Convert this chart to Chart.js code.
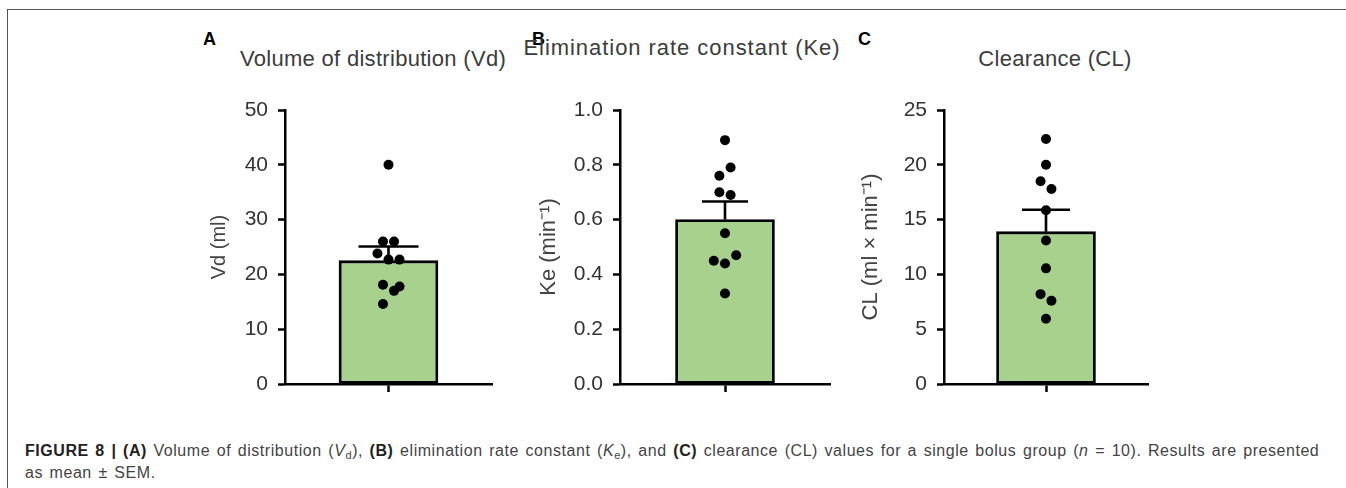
<!DOCTYPE html>
<html>
<head>
<meta charset="utf-8">
<script src="https://cdn.jsdelivr.net/npm/chart.js@4.4.1/dist/chart.umd.min.js"></script>
<style>
  html, body { margin: 0; padding: 0; background: #fff; }
  body { width: 1346px; height: 488px; position: relative; overflow: hidden; font-family: "Liberation Sans", Arial, sans-serif; }
  .frame { position: absolute; left: 7px; top: 9px; right: -2px; bottom: -2px; border-top: 1.5px solid #555; border-left: 1.5px solid #555; }
  .panel { position: absolute; top: 20px; height: 390px; }
  .tag { position: absolute; top: 30px; font-size: 18px; line-height: 18px; font-weight: bold; color: #000; }
  .ptitle { position: absolute; font-size: 22px; line-height: 22px; color: #3c3c3c; white-space: nowrap; transform: translate(-50%, -50%); }
  .caption { position: absolute; left: 25px; top: 440px; font-size: 16px; line-height: 22px; letter-spacing: 0.55px; word-spacing: 1.6px; color: #444; white-space: nowrap; }
  .caption b { color: #222; }
  .caption sub { font-size: 11px; line-height: 0; vertical-align: -3px; }
</style>
</head>
<body>
<div class="frame"></div>

<div class="tag" style="left:203px">A</div>
<div class="tag" style="left:532px">B</div>
<div class="tag" style="left:858px">C</div>

<div class="ptitle" id="titleVd" style="left:373px;top:59px;letter-spacing:0.3px"></div>
<div class="ptitle" id="titleKe" style="left:682px;top:48px;letter-spacing:0.95px"></div>
<div class="ptitle" id="titleCL" style="left:1055px;top:59px;letter-spacing:0.3px"></div>

<div class="panel" style="left:203px;width:340px"><canvas id="chartVd"></canvas></div>
<div class="panel" style="left:500px;width:365px"><canvas id="chartKe"></canvas></div>
<div class="panel" style="left:840px;width:430px"><canvas id="chartCL"></canvas></div>

<div class="caption">
  <b>FIGURE 8 | (A)</b> Volume of distribution (<i>V</i><sub>d</sub>), <b>(B)</b> elimination rate constant (<i>K</i><sub>e</sub>), and <b>(C)</b> clearance (CL) values for a single bolus group (<i>n</i> = 10). Results are presented<br>
  as mean ± SEM.
</div>

<script>
// ค่าเฉลี่ย ± SEM ของแต่ละแผง (อ่านจากรูป)
const vdMean = 22.5, vdSem = 2.6;
const keMean = 0.60, keSem = 0.066;
const clMean = 13.9, clSem = 2.0;

// จุดข้อมูลรายตัว (n = 10) และตำแหน่งกระจายแนวนอน (หน่วย = ความกว้างจุด)
const vdValues = [40.0, 26.0, 26.0, 23.8, 22.7, 22.7, 18.1, 17.8, 17.0, 14.6];
const vdJitter = [0, -1, 1, -2, 0, 2, -1, 2, 1, -1];

const keValues = [0.89, 0.79, 0.76, 0.70, 0.69, 0.55, 0.45, 0.44, 0.47, 0.33];
const keJitter = [0, 1, -1, -1, 1, 0, -2, 0, 2, 0];

const clValues = [22.35, 20.0, 18.5, 17.8, 15.85, 13.1, 10.55, 8.2, 7.6, 5.95];
const clJitter = [0, 0, -1, 1, 0, 0, 0, -1, 1, 0];

// หัวข้อและแกน
const groupLabels = ['Single bolus'];
const panelTitles = ['Volume of distribution (Vd)', 'Elimination rate constant (Ke)', 'Clearance (CL)'];
const yTitles = ['Vd (ml)', 'Ke (min\u207B\u00B9)', 'CL (ml \u00D7 min\u207B\u00B9)'];
const yMax = [50, 1.0, 25];
const yStep = [10, 0.2, 5];

const BAR_GREEN = '#a9d18e';
const INK = '#000';
const FONT = '"Liberation Sans", Arial, sans-serif';

// ปลั๊กอินวาด error bar (mean + SEM) ผ่านสเกลของกราฟ
const errorBarPlugin = {
    id: 'errorBar',
    afterDatasetsDraw(chart, args, opts) {
        const bar = chart.getDatasetMeta(1).data[0];
        if (!bar) return;
        const y = chart.scales.y;
        const base = y.getPixelForValue(opts.mean);
        const top = y.getPixelForValue(opts.mean + opts.sem);
        const ctx = chart.ctx;
        ctx.save();
        ctx.strokeStyle = INK;
        ctx.lineWidth = 2.6;
        ctx.beginPath();
        ctx.moveTo(bar.x, base);
        ctx.lineTo(bar.x, top);
        ctx.moveTo(bar.x - opts.cap / 2, top);
        ctx.lineTo(bar.x + opts.cap / 2, top);
        ctx.stroke();
        ctx.restore();
    }
};

function drawPanel(canvasId, idx, mean, sem, values, jitter, look) {
    document.getElementById(look.titleId).textContent = panelTitles[idx];

    const ctx = document.getElementById(canvasId).getContext('2d');
    const dots = values.map((v, i) => ({ x: jitter[i], y: v }));

    return new Chart(ctx, {
        type: 'bar',
        data: {
            labels: groupLabels,
            datasets: [
                {
                    type: 'scatter',
                    data: dots,
                    xAxisID: 'xj',
                    yAxisID: 'y',
                    pointRadius: 5,
                    pointBackgroundColor: INK,
                    pointBorderWidth: 0,
                    order: 1
                },
                {
                    data: [mean],
                    xAxisID: 'x',
                    yAxisID: 'y',
                    grouped: false,
                    backgroundColor: BAR_GREEN,
                    borderColor: INK,
                    borderWidth: 2.8,
                    borderSkipped: false,
                    barThickness: 99,
                    order: 2
                }
            ]
        },
        options: {
            responsive: true,
            maintainAspectRatio: false,
            animation: false,
            layout: { padding: { left: look.padLeft, right: look.padRight, top: 90, bottom: 18 } },
            scales: {
                x: {
                    type: 'category',
                    offset: true,
                    ticks: { display: false },
                    grid: { display: true, offset: false, drawOnChartArea: false, drawTicks: true, tickLength: 8, color: INK, tickColor: INK, tickWidth: 2.5 },
                    border: { display: true, color: INK, width: 2.5 }
                },
                xj: {
                    type: 'linear',
                    display: false,
                    min: -12.5,
                    max: 12.5
                },
                y: {
                    min: 0,
                    max: yMax[idx],
                    ticks: {
                        stepSize: yStep[idx],
                        padding: 10,
                        color: '#333',
                        font: { family: FONT, size: 21 },
                        callback: v => idx === 1 ? v.toFixed(1) : v
                    },
                    grid: { display: true, drawOnChartArea: false, drawTicks: true, tickLength: 7, color: INK, tickColor: INK, tickWidth: 2.5 },
                    border: { display: true, color: INK, width: 2.5 },
                    title: {
                        display: true,
                        text: yTitles[idx],
                        color: '#444',
                        padding: { top: 4, bottom: 4 },
                        font: { family: FONT, size: look.yTitleSize, weight: 'normal' }
                    },
                    afterFit: scale => { scale.width = look.yWidth; }
                }
            },
            plugins: {
                legend: { display: false },
                tooltip: { enabled: false },
                title: { display: false },
                errorBar: { mean: mean, sem: sem, cap: look.cap }
            }
        },
        plugins: [errorBarPlugin]
    });
}

drawPanel('chartVd', 0, vdMean, vdSem, vdValues, vdJitter,
    { titleId: 'titleVd', padLeft: 0, padRight: 51, yWidth: 82, yTitleSize: 20, cap: 60 });
drawPanel('chartKe', 1, keMean, keSem, keValues, keJitter,
    { titleId: 'titleKe', padLeft: 32, padRight: 35, yWidth: 88, yTitleSize: 22, cap: 46 });
drawPanel('chartCL', 2, clMean, clSem, clValues, clJitter,
    { titleId: 'titleCL', padLeft: 14, padRight: 122, yWidth: 90, yTitleSize: 22, cap: 48 });
</script>
</body>
</html>
